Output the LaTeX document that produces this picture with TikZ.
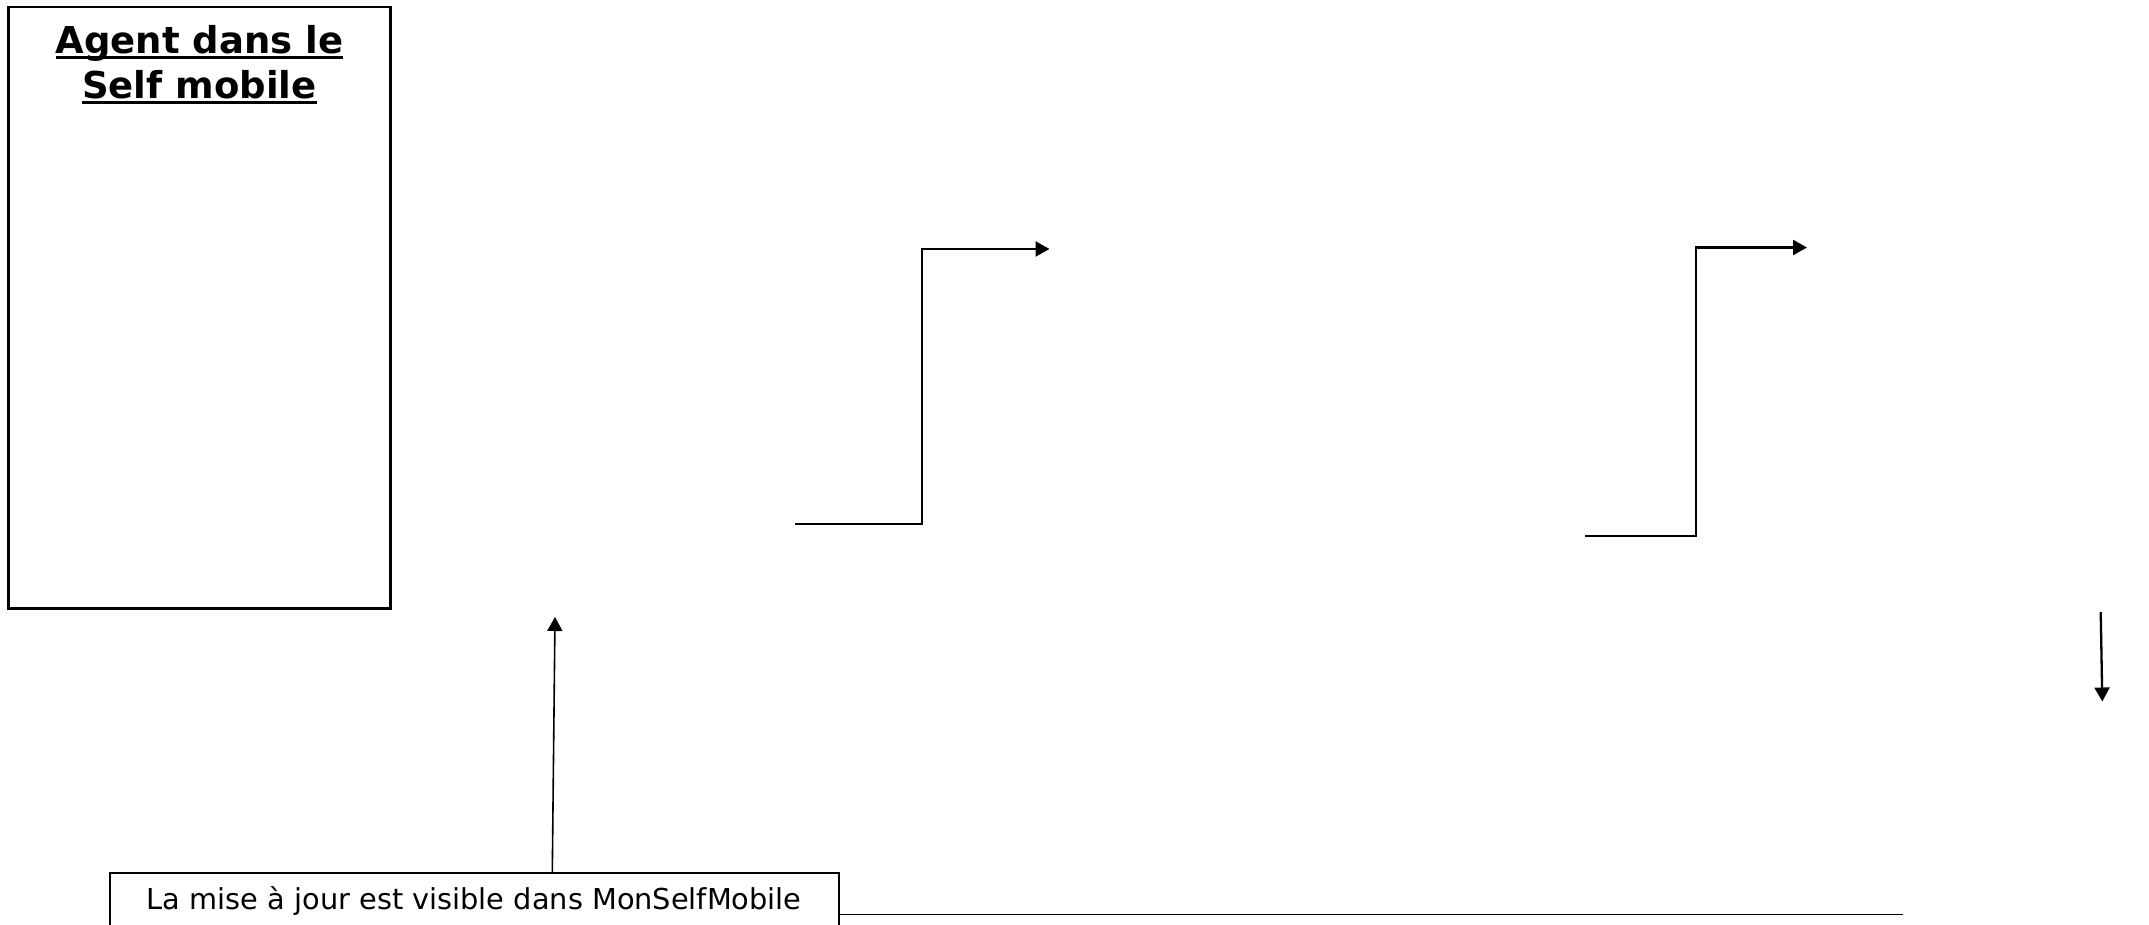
\documentclass[tikz,border=0pt]{standalone}
\usepackage{fontspec}
\setmainfont{DejaVu Sans}
\usetikzlibrary{arrows.meta,calc}
\newcommand\ulinebox[1]{\setbox0\hbox{#1}\rlap{\rule[-5pt]{\wd0}{2.6pt}}\box0}
\tikzset{
  conn/.style={line width=2.3pt,-{Triangle[length=14pt,width=15pt]}},
  thin conn/.style={line width=1.6pt,-{Triangle[length=14pt,width=15pt]}},
  lane/.style={draw,line width=2.6pt,minimum width=382pt,minimum height=601pt,inner sep=0pt},
  msgbox/.style={draw,line width=2pt,minimum width=729pt,minimum height=55pt,inner sep=0pt,
    font=\fontsize{28.8pt}{34pt}\selectfont},
  title/.style={align=center,font=\fontsize{37pt}{45pt}\selectfont\bfseries,inner sep=0pt}
}
\begin{document}
\begin{tikzpicture}[x=1pt,y=-1pt]
\useasboundingbox (0,0) rectangle (2149,925);
% swimlane
\node[lane] (agent) at (199.4,307.7) {};
\node[title,anchor=north] (agenttitle) at (199.4,25.5) {\ulinebox{Agent dans le}\\\ulinebox{Self mobile}};
% bottom message box
\node[msgbox] (msg) at (474.2,900.5) {La mise à jour est visible dans MonSelfMobile};
% coordinates for free connector ends
\coordinate (uptip) at (555,617);
\coordinate (upstart) at (552.3,873);
\coordinate (lineend) at (1903,914.5);
\coordinate (s1a) at (795,524);
\coordinate (s1b) at (1049.5,249);
\coordinate (s2a) at (1585,536);
\coordinate (s2b) at (1807,247.5);
\coordinate (dna) at (2100.7,612);
\coordinate (dnb) at (2102.3,701.5);
% connectors
\draw[thin conn] (upstart |- msg.north) -- (uptip);
\draw[line width=1.6pt] (msg.east |- lineend) -- (lineend);
\draw[conn] (s1a) -| ($(s1a)!.5!(s1b)$) |- (s1b);
\draw[conn] (s2a) -| ($(s2a)!.5!(s2b)$) |- (s2b);
\draw[conn] (dna) -- (dnb);
\end{tikzpicture}
\end{document}
